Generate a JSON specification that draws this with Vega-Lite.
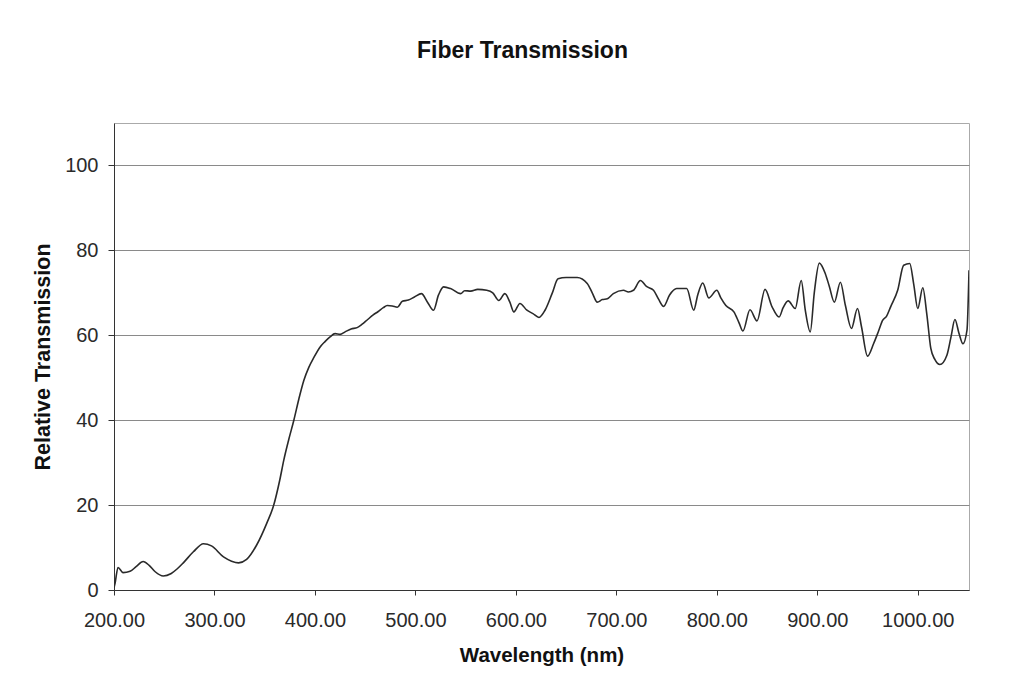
{
  "$schema": "https://vega.github.io/schema/vega-lite/v6.json",
  "width": 855,
  "height": 467,
  "autosize": {"type": "none"},
  "padding": {"left": 114, "top": 123, "right": 46, "bottom": 87},
  "background": "white",
  "title": {
    "text": "Fiber Transmission",
    "anchor": "middle",
    "dx": -19,
    "offset": 60,
    "font": "Liberation Sans",
    "fontSize": 23,
    "fontWeight": "bold",
    "color": "#111"
  },
  "config": {
    "view": {"stroke": "#aaaaaa", "strokeWidth": 1},
    "axis": {
      "labelFont": "Liberation Sans",
      "titleFont": "Liberation Sans",
      "labelColor": "#2a2a2a",
      "titleColor": "#111",
      "domainColor": "#333",
      "tickColor": "#333",
      "gridColor": "#8a8a8a",
      "gridWidth": 1
    }
  },
  "data": {
    "values": [
      {"nm": 200, "t": 0.5}, {"nm": 201, "t": 1.5}, {"nm": 204, "t": 5.3}, {"nm": 209, "t": 4.1},
      {"nm": 216, "t": 4.4}, {"nm": 222, "t": 5.5}, {"nm": 229, "t": 6.7}, {"nm": 235, "t": 5.8},
      {"nm": 241, "t": 4.3}, {"nm": 249, "t": 3.3}, {"nm": 257, "t": 3.9}, {"nm": 263, "t": 5.0},
      {"nm": 269, "t": 6.4}, {"nm": 279, "t": 9.0}, {"nm": 289, "t": 10.9}, {"nm": 297, "t": 10.4},
      {"nm": 309, "t": 7.8}, {"nm": 317, "t": 6.8}, {"nm": 324, "t": 6.4}, {"nm": 332, "t": 7.2},
      {"nm": 342, "t": 10.6}, {"nm": 352, "t": 15.7}, {"nm": 359, "t": 20.0}, {"nm": 365, "t": 25.9},
      {"nm": 369, "t": 30.6}, {"nm": 374, "t": 35.5}, {"nm": 379, "t": 40.0}, {"nm": 384, "t": 45.0},
      {"nm": 389, "t": 49.4}, {"nm": 394, "t": 52.5}, {"nm": 399, "t": 54.8}, {"nm": 405, "t": 57.2},
      {"nm": 410, "t": 58.5}, {"nm": 415, "t": 59.6}, {"nm": 420, "t": 60.4}, {"nm": 425, "t": 60.2},
      {"nm": 430, "t": 60.8}, {"nm": 436, "t": 61.5}, {"nm": 442, "t": 61.8}, {"nm": 447, "t": 62.6},
      {"nm": 452, "t": 63.6}, {"nm": 458, "t": 64.8}, {"nm": 463, "t": 65.6}, {"nm": 468, "t": 66.5},
      {"nm": 472, "t": 67.0}, {"nm": 477, "t": 66.9}, {"nm": 482, "t": 66.6}, {"nm": 487, "t": 68.0},
      {"nm": 493, "t": 68.3}, {"nm": 499, "t": 69.0}, {"nm": 506, "t": 69.8}, {"nm": 512, "t": 67.8},
      {"nm": 518, "t": 65.9}, {"nm": 523, "t": 69.5}, {"nm": 528, "t": 71.4}, {"nm": 535, "t": 71.0},
      {"nm": 545, "t": 69.8}, {"nm": 549, "t": 70.5}, {"nm": 555, "t": 70.4}, {"nm": 562, "t": 70.8},
      {"nm": 571, "t": 70.6}, {"nm": 577, "t": 70.0}, {"nm": 583, "t": 68.2}, {"nm": 589, "t": 69.8},
      {"nm": 594, "t": 67.8}, {"nm": 598, "t": 65.5}, {"nm": 604, "t": 67.5}, {"nm": 611, "t": 65.9},
      {"nm": 617, "t": 65.1}, {"nm": 623, "t": 64.2}, {"nm": 629, "t": 65.9}, {"nm": 636, "t": 69.8},
      {"nm": 642, "t": 73.3}, {"nm": 650, "t": 73.6}, {"nm": 661, "t": 73.6}, {"nm": 671, "t": 72.2},
      {"nm": 676, "t": 70.0}, {"nm": 681, "t": 67.8}, {"nm": 686, "t": 68.4}, {"nm": 691, "t": 68.6},
      {"nm": 697, "t": 69.8}, {"nm": 707, "t": 70.6}, {"nm": 712, "t": 70.2}, {"nm": 717, "t": 70.6},
      {"nm": 724, "t": 72.9}, {"nm": 730, "t": 71.5}, {"nm": 737, "t": 70.6}, {"nm": 742, "t": 68.5},
      {"nm": 747, "t": 66.8}, {"nm": 753, "t": 69.5}, {"nm": 760, "t": 71.0}, {"nm": 770, "t": 71.0},
      {"nm": 777, "t": 65.9}, {"nm": 781, "t": 69.5}, {"nm": 786, "t": 72.3}, {"nm": 792, "t": 68.8},
      {"nm": 800, "t": 70.6}, {"nm": 804, "t": 68.8}, {"nm": 809, "t": 67.0}, {"nm": 817, "t": 65.5},
      {"nm": 822, "t": 63.0}, {"nm": 826, "t": 61.0}, {"nm": 833, "t": 66.0}, {"nm": 840, "t": 63.4},
      {"nm": 848, "t": 70.8}, {"nm": 855, "t": 66.7}, {"nm": 862, "t": 64.3}, {"nm": 866, "t": 66.5},
      {"nm": 871, "t": 68.1}, {"nm": 878, "t": 66.3}, {"nm": 884, "t": 72.9}, {"nm": 888, "t": 66.0},
      {"nm": 893, "t": 60.8}, {"nm": 897, "t": 70.0}, {"nm": 902, "t": 77.0}, {"nm": 908, "t": 74.5},
      {"nm": 912, "t": 71.5}, {"nm": 917, "t": 67.8}, {"nm": 923, "t": 72.5}, {"nm": 928, "t": 67.0},
      {"nm": 934, "t": 61.6}, {"nm": 940, "t": 66.3}, {"nm": 944, "t": 62.0}, {"nm": 950, "t": 55.1},
      {"nm": 956, "t": 58.0}, {"nm": 961, "t": 61.0}, {"nm": 965, "t": 63.5}, {"nm": 969, "t": 64.5},
      {"nm": 973, "t": 66.7}, {"nm": 980, "t": 70.6}, {"nm": 986, "t": 76.5}, {"nm": 992, "t": 76.9},
      {"nm": 996, "t": 72.0}, {"nm": 1000, "t": 66.3}, {"nm": 1005, "t": 71.2}, {"nm": 1009, "t": 65.0},
      {"nm": 1013, "t": 56.9}, {"nm": 1017, "t": 54.3}, {"nm": 1022, "t": 53.1}, {"nm": 1029, "t": 55.3},
      {"nm": 1033, "t": 59.5}, {"nm": 1037, "t": 63.7}, {"nm": 1041, "t": 60.5}, {"nm": 1045, "t": 58.0},
      {"nm": 1049, "t": 61.2}, {"nm": 1051, "t": 75.3}
    ]
  },
  "mark": {"type": "line", "color": "#2a2a2a", "strokeWidth": 1.6, "interpolate": "monotone", "clip": true},
  "encoding": {
    "x": {
      "field": "nm",
      "type": "quantitative",
      "scale": {"domain": [200, 1051], "nice": false, "zero": false},
      "axis": {
        "title": "Wavelength (nm)",
        "titleFontSize": 20.5,
        "titleFontWeight": "bold",
        "titlePadding": 15,
        "values": [200, 300, 400, 500, 600, 700, 800, 900, 1000],
        "format": ".2f",
        "labelFontSize": 20,
        "labelPadding": 15,
        "tickSize": 5,
        "labelFlush": false,
        "labelOverlap": false,
        "grid": false
      }
    },
    "y": {
      "field": "t",
      "type": "quantitative",
      "scale": {"domain": [0, 110], "nice": false},
      "axis": {
        "title": "Relative Transmission",
        "titleFontSize": 21.5,
        "titleFontWeight": "bold",
        "titlePadding": 10,
        "values": [0, 20, 40, 60, 80, 100],
        "labelFontSize": 20,
        "labelPadding": 10,
        "tickSize": 6,
        "grid": true
      }
    }
  }
}
